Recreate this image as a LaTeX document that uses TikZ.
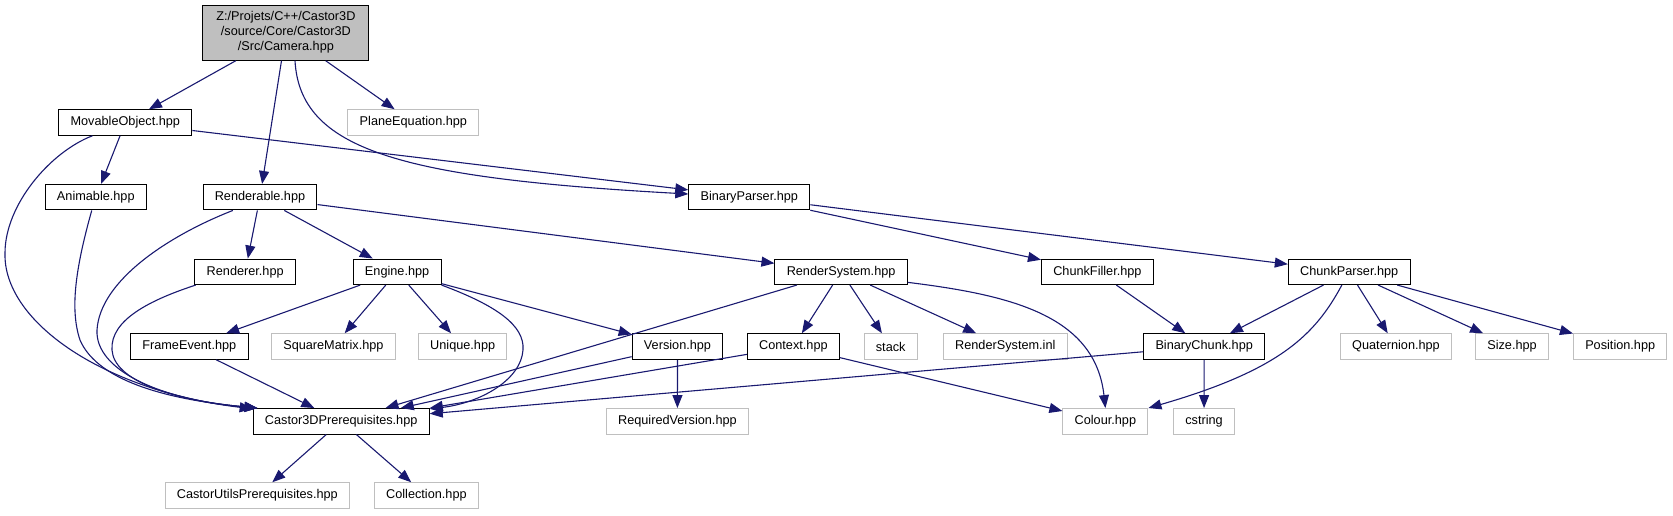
\documentclass[tikz,border=0pt]{standalone}
\usepackage{fontspec}
\setmainfont{Liberation Sans}
\usepackage{xcolor}
\usepackage{tikz}
\usetikzlibrary{arrows.meta, positioning}
\definecolor{edgeblue}{RGB}{25,25,112}
\definecolor{boxgray}{RGB}{191,191,191}
\tikzset{
  docfile/.style={rectangle, draw=black, fill=white, line width=1pt,
    font=\fontsize{12.7}{15}\selectfont, inner xsep=11.8pt, inner ysep=0pt,
    minimum height=25.5pt},
  extfile/.style={docfile, draw=boxgray},
  mainfile/.style={docfile, fill=boxgray, align=center,
    minimum width=166pt, minimum height=55pt},
  arrow/.style={-{Triangle[length=13pt,width=10pt]}, line width=1.1pt, color=edgeblue}
}

\begin{document}
\begin{tikzpicture}[x=1pt, y=-1pt]
  \useasboundingbox (0,0) rectangle (1673,515);

  % Top file
  \node[mainfile] (cam) at (285.9,32.7) {Z:/Projets/C++/Castor3D\\/source/Core/Castor3D\\/Src/Camera.hpp};

  % Row 1
  \node[docfile] (movobj) at (125.3,122.5) {MovableObject.hpp};
  \node[extfile] (planeq) at (413.4,122.5) {PlaneEquation.hpp};

  % Row 2
  \node[docfile] (anim) at (95.8,197.2) {Animable.hpp};
  \node[docfile] (rendable) at (260,197.2) {Renderable.hpp};
  \node[docfile] (binparser) at (749.3,197.2) {BinaryParser.hpp};

  % Row 3
  \node[docfile] (renderer) at (245.2,271.8) {Renderer.hpp};
  \node[docfile] (engine) at (397.1,271.8) {Engine.hpp};
  \node[docfile] (rendsys) at (841.1,271.8) {RenderSystem.hpp};
  \node[docfile] (chunkfill) at (1097.4,271.8) {ChunkFiller.hpp};
  \node[docfile] (chunkparse) at (1349.2,271.8) {ChunkParser.hpp};

  % Row 4
  \node[docfile] (frameev) at (189.3,346.5) {FrameEvent.hpp};
  \node[extfile] (sqmat) at (333.4,346.5) {SquareMatrix.hpp};
  \node[extfile] (unique) at (462.7,346.5) {Unique.hpp};
  \node[docfile] (version) at (677.5,346.5) {Version.hpp};
  \node[docfile] (context) at (793.4,346.5) {Context.hpp};
  \node[extfile] (stack) at (890.7,346.5) {stack};
  \node[extfile] (rsinl) at (1005.3,346.5) {RenderSystem.inl};
  \node[docfile] (binchunk) at (1204.2,346.5) {BinaryChunk.hpp};
  \node[extfile] (quat) at (1396,346.5) {Quaternion.hpp};
  \node[extfile] (size) at (1512,346.5) {Size.hpp};
  \node[extfile] (position) at (1620.2,346.5) {Position.hpp};

  % Row 5
  \node[docfile] (c3dpre) at (341.2,421.3) {Castor3DPrerequisites.hpp};
  \node[extfile] (reqver) at (677.4,421.3) {RequiredVersion.hpp};
  \node[extfile] (colour) at (1105.4,421.3) {Colour.hpp};
  \node[extfile] (cstring) at (1204,421.3) {cstring};

  % Row 6
  \node[extfile] (cupre) at (257.3,495.5) {CastorUtilsPrerequisites.hpp};
  \node[extfile] (collect) at (426.4,495.5) {Collection.hpp};

  % Camera.hpp includes
  \draw[arrow] (cam) -- (movobj);
  \draw[arrow] (cam) -- (rendable);
  \draw[arrow] (cam) -- (planeq);
  \draw[arrow] (cam.-72) .. controls (300,150) and (400,178) .. (binparser.177);

  % MovableObject.hpp and Animable.hpp
  \draw[arrow] (movobj) -- (anim);
  \draw[arrow] (movobj) -- (binparser);
  \draw[arrow] (movobj.-158) .. controls (50,152) and (5,205) .. (5,253)
    .. controls (3,320) and (100,390) .. (c3dpre.172);
  \draw[arrow] (anim.-107) .. controls (75,270) and (70,310) .. (80,340)
    .. controls (95,375) and (150,398) .. (c3dpre.171.7);

  % Renderable.hpp
  \draw[arrow] (rendable) -- (renderer);
  \draw[arrow] (rendable) -- (engine);
  \draw[arrow] (rendable) -- (rendsys);
  \draw[arrow] (rendable.-154) .. controls (170,235) and (100,280) .. (97,330)
    .. controls (95,370) and (160,400) .. (c3dpre.171.4);
  \draw[arrow] (renderer.-165) .. controls (150,300) and (110,320) .. (112,350)
    .. controls (114,380) and (170,400) .. (c3dpre.171.1);

  % Engine.hpp
  \draw[arrow] (engine) -- (frameev);
  \draw[arrow] (engine) -- (sqmat);
  \draw[arrow] (engine) -- (unique);
  \draw[arrow] (engine) -- (version);
  \draw[arrow] (engine.south east) .. controls (495,305) and (525,325) .. (523,350)
    .. controls (521,380) and (480,403) .. (c3dpre.8.3);
  \draw[arrow] (frameev) -- (c3dpre);
  \draw[arrow] (version) -- (reqver);
  \draw[arrow] (version) -- (c3dpre);

  % RenderSystem.hpp
  \draw[arrow] (rendsys) -- (c3dpre);
  \draw[arrow] (rendsys) -- (context);
  \draw[arrow] (rendsys) -- (stack);
  \draw[arrow] (rendsys) -- (rsinl);
  \draw[arrow] (rendsys.-9) .. controls (1010,295) and (1095,315) .. (colour.north);
  \draw[arrow] (context) -- (c3dpre.north east);
  \draw[arrow] (context) -- (colour);

  % BinaryParser.hpp and chunks
  \draw[arrow] (binparser) -- (chunkfill);
  \draw[arrow] (binparser) -- (chunkparse);
  \draw[arrow] (chunkfill) -- (binchunk);
  \draw[arrow] (chunkparse) -- (binchunk);
  \draw[arrow] (chunkparse) -- (quat);
  \draw[arrow] (chunkparse) -- (size);
  \draw[arrow] (chunkparse) -- (position);
  \draw[arrow] (chunkparse.-119) .. controls (1315,335) and (1280,370) .. (colour.north east);
  \draw[arrow] (binchunk) -- (c3dpre);
  \draw[arrow] (binchunk) -- (cstring);

  % Castor3DPrerequisites.hpp
  \draw[arrow] (c3dpre) -- (cupre);
  \draw[arrow] (c3dpre) -- (collect);
\end{tikzpicture}
\end{document}
